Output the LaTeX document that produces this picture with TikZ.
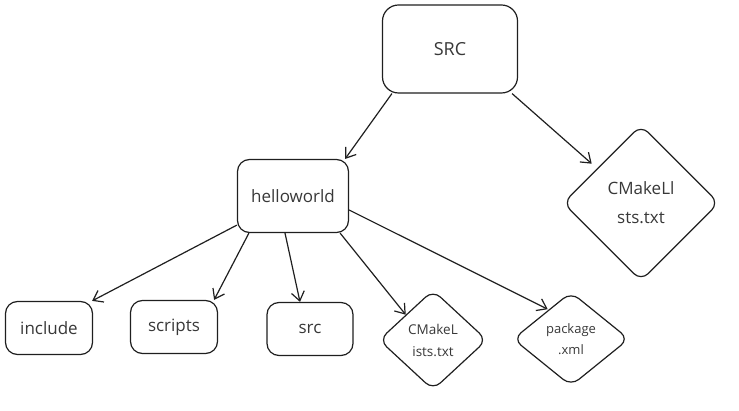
\documentclass[tikz,border=0pt]{standalone}
\usepackage{fontspec}
\setmainfont{Open Sans}
\usetikzlibrary{arrows.meta,shapes.geometric}

\begin{document}
\begin{tikzpicture}[x=1pt,y=-1pt,line width=1.2pt,
  ink/.style={draw=black!88,text=black!78},
  box/.style={ink,rectangle,rounded corners=12pt,inner sep=0pt},
  rhomb/.style={ink,diamond,rounded corners=10pt,inner sep=0pt,align=center},
  link/.style={draw=black!88,-{Straight Barb[length=9pt,width=13pt]}}]
\useasboundingbox (0,0) rectangle (739,411);
% top level
\node[box,rounded corners=16pt,minimum width=135pt,minimum height=88pt,
  font=\fontsize{18}{22}\selectfont] (SRC) at (450,49) {SRC};
\node[rhomb,minimum width=156pt,minimum height=156pt,
  font=\fontsize{17}{29}\selectfont] (cmakeTop) at (641,203) {CMakeLl\\sts.txt};
% package folder
\node[box,minimum width=111pt,minimum height=73pt,
  font=\fontsize{17}{20}\selectfont] (hello) at (293,196) {helloworld};
% children of helloworld
\node[box,minimum width=87pt,minimum height=53pt,
  font=\fontsize{17}{20}\selectfont] (include) at (49,328) {include};
\node[box,minimum width=87pt,minimum height=53pt,
  font=\fontsize{17}{20}\selectfont] (scripts) at (174,327) {scripts};
\node[box,minimum width=86pt,minimum height=53pt,
  font=\fontsize{17}{20}\selectfont] (src) at (310,329) {src};
\node[rhomb,minimum width=108pt,minimum height=100pt,
  font=\fontsize{13.5}{22}\selectfont] (cmakeSub) at (433,340) {CMakeL\\ists.txt};
\node[rhomb,minimum width=116pt,minimum height=94pt,
  font=\fontsize{13}{21}\selectfont] (pkg) at (571,339) {package\\.xml};

\draw[link] ([xshift=10pt]SRC.south west) -- ([xshift=-4pt]hello.north east);
\draw[link] ([xshift=-6pt]SRC.south east) -- ([shift={(-10pt,0pt)}]cmakeTop.north west);
\draw[link] ([yshift=8pt]hello.south west) -- ([xshift=-1pt]include.north east);
\draw[link] ([xshift=12pt]hello.south west) -- ([xshift=-4pt]scripts.north east);
\draw[link] ([xshift=-8pt]hello.south) -- ([xshift=-10pt]src.north);
\draw[link] ([xshift=-9pt]hello.south east) -- (cmakeSub.north west);
\draw[link] ([yshift=-14pt]hello.east) -- ([shift={(6pt,6pt)}]pkg.north west);
\end{tikzpicture}
\end{document}
